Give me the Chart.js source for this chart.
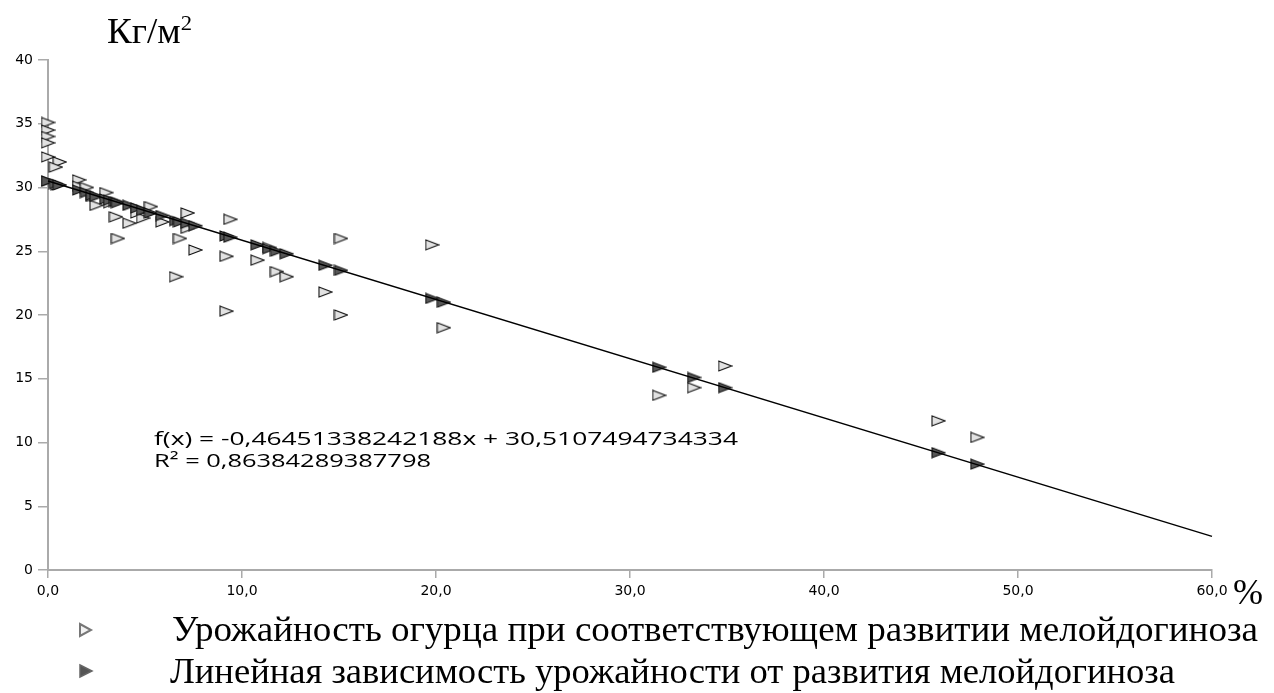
<!DOCTYPE html>
<html><head><meta charset="utf-8">
<script src="https://cdn.jsdelivr.net/npm/chart.js@4.4.1/dist/chart.umd.min.js"></script>
<style>
html,body{margin:0;padding:0;background:#fff;}
#wrap{position:relative;width:1274px;height:693px;overflow:hidden;background:#fff;}
#c{position:absolute;left:0;top:0;}
.t{position:absolute;white-space:nowrap;color:#000;transform-origin:0 0;line-height:1;}
.serif{font-family:"Liberation Serif","Times New Roman",serif;}
.sans{font-family:"Open Sans","Liberation Sans",sans-serif;}
</style></head><body>
<div id="wrap">
<canvas id="c" width="1274" height="693"></canvas>
<div class="t serif" id="yTitle" style="left:107px;top:13px;font-size:36px;" data-w="85">Кг/м<span style="font-size:22px;position:relative;top:-13px;">2</span></div>
<div class="t serif" id="xTitle" style="left:1233px;top:574px;font-size:36px;">%</div>
<div class="t sans" id="eq1" style="left:154px;top:429px;font-size:19px;" data-w="584">f(x) = -0,46451338242188x + 30,5107494734334</div>
<div class="t sans" id="eq2" style="left:154px;top:451px;font-size:19px;" data-w="277">R² = 0,86384289387798</div>
<div class="t serif" id="leg1" style="left:172px;top:611px;font-size:36px;" data-w="1086">Урожайность огурца при соответствующем развитии мелойдогиноза</div>
<div class="t serif" id="leg2" style="left:170px;top:653px;font-size:36px;" data-w="1005">Линейная зависимость урожайности от развития мелойдогиноза</div>
</div>
<script>
// Observed yield (light markers)
const lightX = [0, 0, 0, 0, 0, 0.6, 0.4, 0, 0.5, 1.6, 1.6, 2.0, 2.3, 2.5, 3.0, 3.2, 3.5, 3.6, 4.2, 4.6, 4.9, 5.3, 5.9, 6.6, 6.8, 7.2, 7.2, 7.6, 9.2, 9.2, 9.4, 10.8, 11.4, 11.8, 12.3, 14.3, 15.1, 15.1, 19.8, 20.4, 31.5, 33.3, 34.9, 45.9, 47.9];
const lightY = [35.1, 34.5, 34.0, 33.5, 32.4, 32.0, 31.6, 30.5, 30.2, 30.6, 30.1, 30.0, 29.3, 28.6, 29.6, 28.8, 27.7, 26.0, 27.2, 28.0, 27.6, 28.5, 27.3, 23.0, 26.0, 28.0, 26.8, 25.1, 24.6, 20.3, 27.5, 24.3, 25.3, 23.4, 23.0, 21.8, 26.0, 20.0, 25.5, 19.0, 13.7, 14.3, 16.0, 11.7, 10.4];
// Linear dependence (dark markers)
const darkX = [0, 0.4, 0.6, 1.6, 2.0, 2.3, 2.5, 3.0, 3.2, 3.5, 3.6, 4.2, 4.6, 4.9, 5.3, 5.9, 6.6, 6.8, 7.2, 7.6, 9.2, 9.4, 10.8, 11.4, 11.8, 12.3, 14.3, 15.1, 19.8, 20.4, 31.5, 33.3, 34.9, 45.9, 47.9];
const darkY = [30.5, 30.3, 30.2, 29.8, 29.6, 29.4, 29.3, 29.1, 29.0, 28.9, 28.8, 28.6, 28.4, 28.2, 28.0, 27.8, 27.4, 27.3, 27.2, 27.0, 26.2, 26.1, 25.5, 25.2, 25.0, 24.8, 23.9, 23.5, 21.3, 21.0, 15.9, 15.1, 14.3, 9.2, 8.3];
// Trend line end points
const trendX = [0, 60];
const trendY = [30.51, 2.64];
// Tick values
const xTicks = [0, 10, 20, 30, 40, 50, 60];
const yTicks = [0, 5, 10, 15, 20, 25, 30, 35, 40];

function triImg(fill, stroke, w, h, lw) {
  const c = document.createElement('canvas');
  c.width = w; c.height = h;
  const g = c.getContext('2d');
  g.beginPath();
  g.moveTo(1, 1); g.lineTo(w - 1, h / 2); g.lineTo(1, h - 1); g.closePath();
  g.fillStyle = fill; g.fill();
  g.lineWidth = lw; g.strokeStyle = stroke; g.lineJoin = 'miter'; g.stroke();
  return c;
}
const lightTri = triImg('#e2e2e2', '#111', 15, 12, 1.1);
const darkTri = triImg('#585858', '#111', 15, 12, 1.1);

const pts = (xs, ys) => xs.map((x, i) => ({x: x, y: ys[i]}));

const legendMarks = {
  id: 'legendMarks',
  afterDraw(chart) {
    const g = chart.ctx;
    g.save();
    g.beginPath(); g.moveTo(80, 624); g.lineTo(91, 630); g.lineTo(80, 636); g.closePath();
    g.fillStyle = '#f2f2f2'; g.fill(); g.lineWidth = 2; g.strokeStyle = '#777'; g.stroke();
    g.beginPath(); g.moveTo(80, 665); g.lineTo(92, 671); g.lineTo(80, 677); g.closePath();
    g.fillStyle = '#555'; g.fill(); g.lineWidth = 1.5; g.strokeStyle = '#666'; g.stroke();
    g.restore();
  }
};

const fmt = v => Number(v).toFixed(1).replace('.', ',');

new Chart(document.getElementById('c'), {
  type: 'scatter',
  data: {
    datasets: [
      {type: 'line', label: 'trend', data: pts(trendX, trendY), borderColor: '#000', borderWidth: 1.4, pointRadius: 0, fill: false, order: 0, clip: false},
      {label: 'Линейная зависимость урожайности от развития мелойдогиноза', data: pts(darkX, darkY), pointStyle: darkTri, pointRadius: 7, order: 1, clip: false},
      {label: 'Урожайность огурца при соответствующем развитии мелойдогиноза', data: pts(lightX, lightY), pointStyle: lightTri, pointRadius: 7, order: 2, clip: false}
    ]
  },
  options: {
    responsive: false,
    animation: false,
    events: [],
    layout: {padding: {left: 0, top: 60, right: 62, bottom: 93}},
    plugins: {legend: {display: false}, tooltip: {enabled: false}, title: {display: false}},
    scales: {
      x: {
        type: 'linear', min: 0, max: 60,
        afterBuildTicks: s => { s.ticks = xTicks.map(v => ({value: v})); },
        afterFit: s => { s.height = 30; },
        border: {color: '#aaaaaa', width: 2},
        grid: {drawOnChartArea: false, drawTicks: true, tickLength: 8, color: '#aaaaaa', lineWidth: 1.5},
        ticks: {callback: v => fmt(v), color: '#000', font: {family: 'DejaVu Sans', size: 14}, padding: 5, maxRotation: 0}
      },
      y: {
        type: 'linear', min: 0, max: 40,
        afterBuildTicks: s => { s.ticks = yTicks.map(v => ({value: v})); },
        afterFit: s => { s.width = 48; },
        border: {color: '#aaaaaa', width: 2},
        grid: {drawOnChartArea: false, drawTicks: true, tickLength: 10, color: '#aaaaaa', lineWidth: 1.5},
        ticks: {color: '#000', font: {family: 'DejaVu Sans', size: 14}, padding: 5}
      }
    }
  },
  plugins: [legendMarks]
});

function fit() {
  document.querySelectorAll('[data-w]').forEach(el => {
    el.style.transform = 'none';
    const w = el.getBoundingClientRect().width;
    const target = parseFloat(el.dataset.w);
    if (w > 0) el.style.transform = 'scaleX(' + (target / w) + ')';
  });
}
fit();
if (document.fonts && document.fonts.ready) document.fonts.ready.then(fit);
</script>
</body></html>
